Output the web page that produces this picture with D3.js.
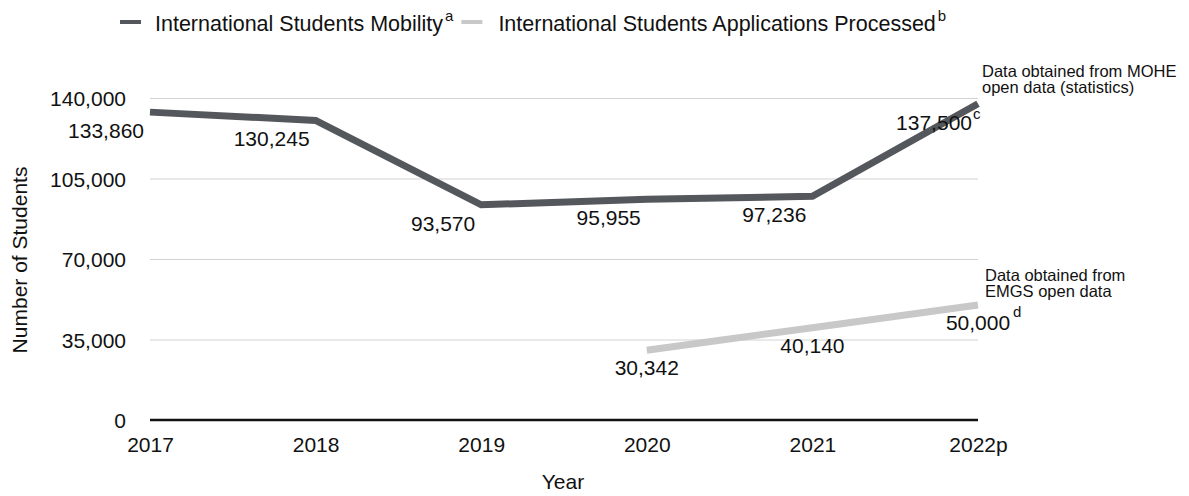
<!DOCTYPE html>
<html>
<head>
<meta charset="utf-8">
<script src="https://cdn.jsdelivr.net/npm/d3@7"></script>
<style>
  body { margin: 0; background: #fff; }
  svg { display: block; font-family: "Liberation Sans", Arial, Helvetica, sans-serif; }
</style>
</head>
<body>
<div class="chart-area"></div>
<script>
var years = ["2017", "2018", "2019", "2020", "2021", "2022p"];
var mobility = [133860, 130245, 93570, 95955, 97236, 137500];
var applications = [null, null, null, 30342, 40140, 50000];
var yTicks = [0, 35000, 70000, 105000, 140000];

var seriesNames = ["International Students Mobility", "International Students Applications Processed"];
var seriesMarks = ["a", "b"];
var lastNotes = ["c", "d"];
var sourceNotes = [
    ["Data obtained from MOHE", "open data (statistics)"],
    ["Data obtained from", "EMGS open data"]
];

var dark = "#54575c";
var light = "#c8c8c8";
var fmt = d3.format(",");

var svg = d3.select(".chart-area")
    .append("svg")
    .attr("width", 1189)
    .attr("height", 496);

var x = d3.scalePoint().domain(years).range([150, 978]);
var y = d3.scaleLinear().domain([0, 140000]).range([420, 98]);

// grid + y labels
var yAxis = svg.append("g")
    .attr("transform", "translate(150,0)")
    .call(d3.axisLeft(y).tickValues(yTicks).tickFormat(fmt).tickSize(-828).tickPadding(24));
yAxis.select(".domain").remove();
yAxis.selectAll("line").attr("stroke", "#d2d2d2").attr("stroke-width", 1);
yAxis.selectAll("text")
    .attr("font-size", 21)
    .attr("fill", "#111")
    .attr("dy", "0.38em");

// zero line
svg.append("line")
    .attr("x1", x(years[0])).attr("x2", x(years[years.length - 1]))
    .attr("y1", y(0)).attr("y2", y(0))
    .attr("stroke", "#111").attr("stroke-width", 2.5);

// x labels
var xAxis = svg.append("g")
    .attr("transform", "translate(0,420)")
    .call(d3.axisBottom(x).tickSize(0).tickPadding(17));
xAxis.select(".domain").remove();
xAxis.selectAll("text").attr("font-size", 21).attr("fill", "#111");

// axis titles
svg.append("text")
    .attr("x", 563).attr("y", 489)
    .attr("text-anchor", "middle")
    .attr("font-size", 21)
    .attr("fill", "#111")
    .text("Year");
svg.append("text")
    .attr("transform", "translate(27,260) rotate(-90)")
    .attr("text-anchor", "middle")
    .attr("font-size", 21)
    .attr("fill", "#111")
    .text("Number of Students");

var line = d3.line()
    .defined(function(d) { return d != null; })
    .x(function(d, i) { return x(years[i]); })
    .y(function(d) { return y(d); });

svg.append("path")
    .attr("d", line(mobility))
    .attr("fill", "none")
    .attr("stroke", dark)
    .attr("stroke-width", 7)
    .attr("stroke-linejoin", "miter");

svg.append("path")
    .attr("d", line(applications))
    .attr("fill", "none")
    .attr("stroke", light)
    .attr("stroke-width", 7);

// value labels, dark series
mobility.forEach(function(v, i) {
    svg.append("text")
        .attr("x", x(years[i]) - 6)
        .attr("y", y(v) + 26)
        .attr("text-anchor", "end")
        .attr("font-size", 21)
        .attr("fill", "#111")
        .text(fmt(v));
    if (i == mobility.length - 1) {
        svg.append("text")
            .attr("x", x(years[i]) - 5)
            .attr("y", y(v) + 15)
            .attr("font-size", 15)
            .attr("fill", "#111")
            .text(lastNotes[0]);
    }
});

// value labels, light series
applications.forEach(function(v, i) {
    if (v == null) return;
    var t = svg.append("text")
        .attr("x", x(years[i]))
        .attr("y", y(v) + 25)
        .attr("text-anchor", "middle")
        .attr("font-size", 21)
        .attr("fill", "#111")
        .text(fmt(v));
    if (i == applications.length - 1) {
        var w = t.node().getComputedTextLength();
        svg.append("text")
            .attr("x", x(years[i]) + w / 2 + 3)
            .attr("y", y(v) + 12)
            .attr("font-size", 15)
            .attr("fill", "#111")
            .text(lastNotes[1]);
    }
});

// source notes
var noteX = [982, 985];
var noteY = [77, 281];
sourceNotes.forEach(function(lines, k) {
    var t = svg.append("text")
        .attr("x", noteX[k])
        .attr("y", noteY[k])
        .attr("font-size", 16.5)
        .attr("fill", "#111");
    lines.forEach(function(s, j) {
        t.append("tspan")
            .attr("x", noteX[k])
            .attr("dy", j == 0 ? 0 : 16)
            .text(s);
    });
});

// legend
var lx = 120;
[dark, light].forEach(function(c, k) {
    svg.append("line")
        .attr("x1", lx).attr("x2", lx + 21)
        .attr("y1", 22).attr("y2", 22)
        .attr("stroke", c).attr("stroke-width", 4);
    lx += k == 0 ? 35 : 37;
    var t = svg.append("text")
        .attr("x", lx).attr("y", 31)
        .attr("font-size", 21.5)
        .attr("fill", "#111")
        .text(seriesNames[k]);
    lx += t.node().getComputedTextLength() + 2;
    var m = svg.append("text")
        .attr("x", lx).attr("y", 21)
        .attr("font-size", 15)
        .attr("fill", "#111")
        .text(seriesMarks[k]);
    lx += m.node().getComputedTextLength() + 8;
});
</script>
</body>
</html>
